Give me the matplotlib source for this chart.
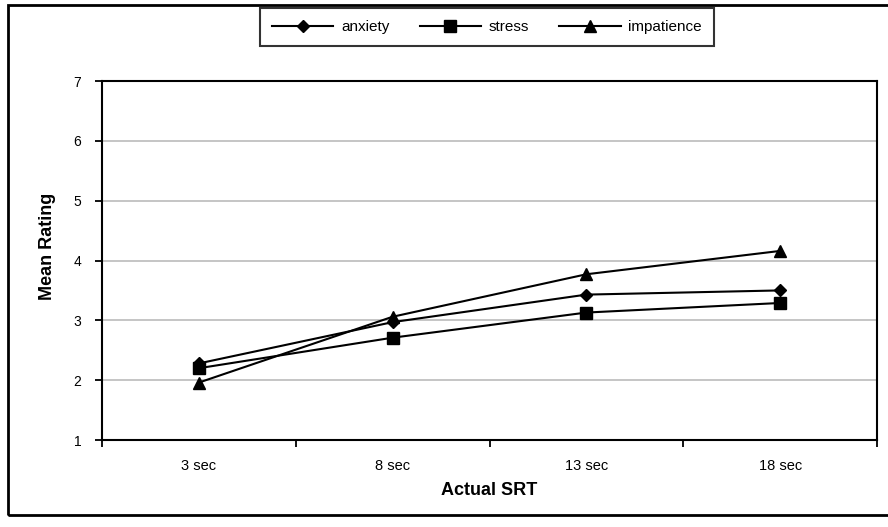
import matplotlib.pyplot as plt
from matplotlib.patches import Rectangle

plt.rcParams['font.family'] = ['Liberation Sans', 'DejaVu Sans']

# Mean ratings per stimulus response time
srt_labels = ['3 sec', '8 sec', '13 sec', '18 sec']
anxiety = [2.28, 2.97, 3.43, 3.50]
stress = [2.20, 2.71, 3.13, 3.29]
impatience = [1.96, 3.06, 3.77, 4.16]

fig = plt.figure(figsize=(8.88, 5.27), dpi=100)
ax = fig.add_axes([102 / 888, 1 - 440 / 527, 775 / 888, 359 / 527])

x = [i + 0.5 for i in range(len(srt_labels))]
ax.plot(x, anxiety, color='black', lw=1.5, marker='D', ms=6.5, label='anxiety')
ax.plot(x, stress, color='black', lw=1.5, marker='s', ms=8, label='stress')
ax.plot(x, impatience, color='black', lw=1.5, marker='^', ms=8, label='impatience')

ax.set_xlim(0, 4)
ax.set_ylim(1, 7)
ax.set_yticks(range(1, 8))
ax.set_xticks(range(5))
ax.set_xticklabels([])
ax.set_xticks(x, minor=True)
ax.set_xticklabels(srt_labels, minor=True)
ax.tick_params(axis='x', which='minor', length=0, pad=14, labelsize=10.5)
ax.tick_params(axis='x', which='major', length=5, width=1.3, direction='out')
ax.tick_params(axis='y', length=5, width=1.3, direction='out', pad=10, labelsize=10)
ax.grid(axis='y', color='#c0c0c0', lw=1.3)
ax.set_axisbelow(True)
for sp in ax.spines.values():
    sp.set_linewidth(1.5)

ax.set_xlabel('Actual SRT', fontsize=13, fontweight='bold', labelpad=6)
ax.set_ylabel('Mean Rating', fontsize=13, fontweight='bold')
ax.yaxis.set_label_coords(-0.059, 0.54)

leg = fig.legend(loc='center', bbox_to_anchor=(487 / 888, 1 - 27 / 527), ncol=3,
                 frameon=True, fancybox=False, edgecolor='black', fontsize=11,
                 handlelength=4.0, columnspacing=2.0, handletextpad=0.5,
                 borderpad=0.8, borderaxespad=0)
leg.get_frame().set_linewidth(1.5)

# outer chart border
fig.patches.append(Rectangle((8 / 888, 1 - 515 / 527), 900 / 888, 510 / 527,
                             transform=fig.transFigure, fill=False,
                             edgecolor='black', lw=2))

fig.savefig('out.png', dpi=100)
